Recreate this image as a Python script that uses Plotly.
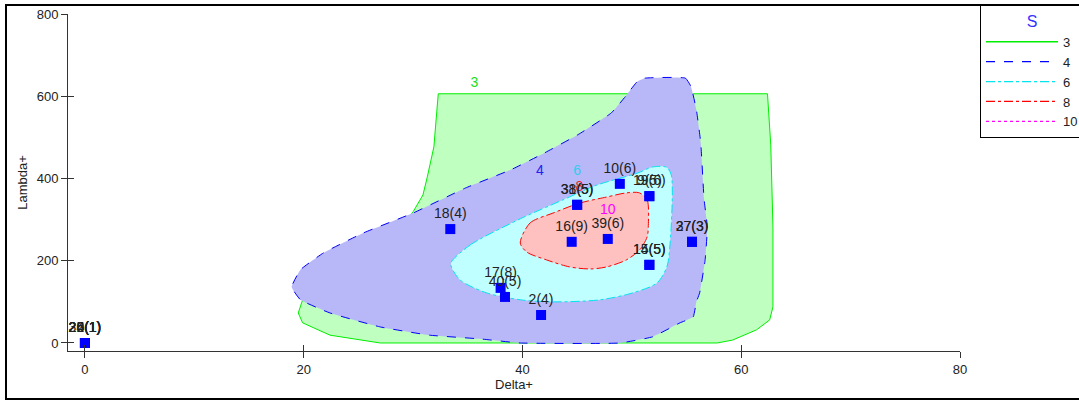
import plotly.graph_objects as go

# ---- contour regions (S levels) in data coordinates ----
s3_x = [32.3, 62.4, 62.7, 62.9, 62.9, 62.6, 61.4, 59.2, 57.8, 27.0, 22.4, 19.9, 19.5, 19.9, 21.5, 23.9, 27.0, 28.8, 30.0, 30.9, 31.3, 31.9, 32.3]
s3_y = [606, 606, 481, 282, 88, 56, 32, 7, 0, 0, 19, 49, 73, 105, 136, 170, 219, 275, 319, 360, 404, 477, 606]

s4_x = [51.2, 54.9, 55.4, 55.9, 56.3, 56.6, 56.9, 56.7, 56.2, 55.9, 55.6, 54.4, 51.9, 48.9, 39.8, 36.1, 31.5, 27.0, 22.4, 19.7, 18.9, 19.7, 21.8, 25.4, 30.0, 34.8, 39.0, 42.0, 45.1, 48.1, 49.4, 50.5, 51.2]
s4_y = [644, 644, 624, 567, 486, 350, 282, 202, 122, 100, 63, 49, 15, 0, 0, 10, 19, 39, 73, 105, 136, 178, 219, 267, 316, 377, 422, 462, 507, 559, 599, 636, 644]

s6_x = [33.5, 35.2, 39.8, 43.7, 46.8, 50.5, 51.9, 53.2, 53.6, 53.7, 53.5, 53.2, 52.3, 50.1, 47.1, 42.8, 39.8, 36.7, 34.3, 33.5, 33.5]
s6_y = [197, 238, 302, 348, 384, 413, 428, 427, 409, 365, 243, 185, 146, 122, 105, 100, 105, 122, 153, 185, 197]

s8_x = [39.8, 40.7, 42.8, 45.2, 47.7, 49.5, 50.7, 51.4, 51.5, 51.4, 50.7, 49.5, 47.7, 46.2, 44.3, 42.2, 40.4, 39.8]
s8_y = [243, 292, 316, 340, 355, 365, 365, 348, 282, 258, 226, 202, 185, 180, 185, 202, 221, 243]

# ---- contour level labels ----
level_names = ["3", "4", "6", "8", "10"]
level_lab_x = [35.6, 41.6, 45.0, 45.2, 47.8]
level_lab_y = [632, 416, 416, 379, 321]

# ---- sample points ----
pt_x = [0, 0, 0, 0, 0, 33.4, 48.9, 51.6, 51.6, 45.0, 45.0, 44.5, 47.8, 51.6, 51.6, 55.5, 55.5, 38.0, 38.4, 41.7]
pt_y = [0, 0, 0, 0, 0, 277, 387, 357, 357, 336, 336, 246, 253, 190, 190, 246, 246, 134, 112, 68]
pt_lab = ["20(1)", "22(1)", "24(1)", "26(1)", "35(1)", "18(4)", "10(6)", "9(5)", "19(6)",
          "31(5)", "38(5)", "16(9)", "39(6)", "15(5)", "14(5)", "37(3)", "27(3)", "17(8)", "40(5)", "2(4)"]

x_ticks = [0, 20, 40, 60, 80]
y_ticks = [0, 200, 400, 600, 800]

FONT = "Liberation Sans, Arial, sans-serif"

line_cols = ["#00ee00", "#0000ff", "#00e5ee", "#ff0000", "#ff00ff"]
line_dash = ["solid", "dash", "dashdot", "dashdot", "dot"]
fill_cols = ["#bfffbf", "#b8b8f8", "#c0ffff", "#ffc0c0"]
lab_cols = ["#22dd22", "#2222ee", "#33ccee", "#ee2222", "#ff00ff"]
smooth = [0.0, 0.35, 0.8, 0.8]

fig = go.Figure()
regions = [(s3_x, s3_y), (s4_x, s4_y), (s6_x, s6_y), (s8_x, s8_y)]
for i, (rx, ry) in enumerate(regions):
    ln = dict(color=line_cols[i], width=1, dash=line_dash[i])
    if smooth[i] > 0:
        ln.update(shape="spline", smoothing=smooth[i])
    fig.add_trace(go.Scatter(x=rx, y=ry, mode="lines", fill="toself", fillcolor=fill_cols[i],
                             line=ln, showlegend=False, hoverinfo="skip"))

# legend entries
for i, name in enumerate(level_names):
    fig.add_trace(go.Scatter(x=[None], y=[None], mode="lines", name=name,
                             line=dict(color=line_cols[i], width=1.3, dash=line_dash[i])))

# level labels
for i, name in enumerate(level_names):
    fig.add_trace(go.Scatter(x=[level_lab_x[i]], y=[level_lab_y[i]], mode="text", text=[name],
                             textfont=dict(color=lab_cols[i], size=14, family=FONT),
                             showlegend=False, hoverinfo="skip"))

# points
fig.add_trace(go.Scatter(x=pt_x, y=pt_y, mode="markers+text", text=pt_lab, textposition="top center",
                         marker=dict(symbol="square", size=10, color="#0000ff"),
                         textfont=dict(color="#222222", size=14, family=FONT),
                         showlegend=False))

# dummy trace for overlay axes (inside ticks)
fig.add_trace(go.Scatter(x=[None], y=[None], xaxis="x2", yaxis="y2", showlegend=False))

W, H = 1079, 403
L, R, T, B = 68, 119, 14, 52
pw, ph = W - L - R, H - T - B

def px2paper_x(p):
    return (p - L) / pw

def py2paper_y(p):
    return (H - B - p) / ph

xr = [-1.55, 80]
yr = [-19.5, 800]

axis_common = dict(showgrid=False, zeroline=False, showline=True, linecolor="#333333", linewidth=1,
                   ticks="outside", ticklen=6, tickcolor="#333333",
                   tickfont=dict(family=FONT, size=13, color="#222222"))

fig.update_layout(
    width=W, height=H, margin=dict(l=L, r=R, t=T, b=B, autoexpand=False),
    paper_bgcolor="white", plot_bgcolor="white",
    font=dict(family=FONT, size=13, color="#222222"),
    xaxis=dict(range=xr, tickvals=x_ticks, title=dict(text="Delta+", standoff=4, font=dict(size=13)), **axis_common),
    yaxis=dict(range=yr, tickvals=y_ticks, title=dict(text="Lambda+", standoff=6, font=dict(size=13)), **axis_common),
    xaxis2=dict(range=xr, overlaying="x", anchor="y2", tickvals=x_ticks, ticks="inside", ticklen=6,
                tickcolor="#333333", showticklabels=False, showline=False, showgrid=False, zeroline=False),
    yaxis2=dict(range=yr, overlaying="y", anchor="x2", tickvals=y_ticks, ticks="inside", ticklen=6,
                tickcolor="#333333", showticklabels=False, showline=False, showgrid=False, zeroline=False),
    legend=dict(x=px2paper_x(980), y=py2paper_y(5), xanchor="left", yanchor="top",
                bordercolor="black", borderwidth=1, bgcolor="white",
                font=dict(family=FONT, size=13, color="#222222"),
                title=dict(text="S", side="top center", font=dict(color="#3333ff", size=16, family=FONT)),
                itemwidth=72, tracegroupgap=0),
    shapes=[dict(type="rect", xref="paper", yref="paper",
                 x0=px2paper_x(6), x1=px2paper_x(1200), y0=py2paper_y(399), y1=py2paper_y(5),
                 line=dict(color="black", width=2), fillcolor="rgba(0,0,0,0)", layer="above")],
)

fig.write_html("out.html")
